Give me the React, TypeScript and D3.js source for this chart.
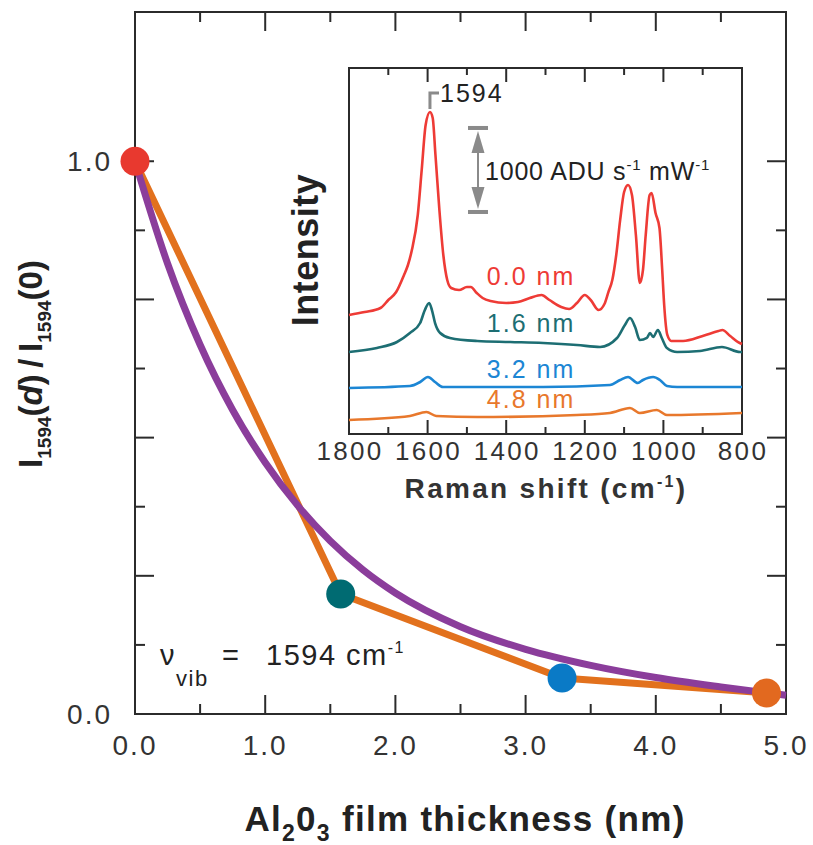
import React from 'react';
import * as d3 from 'd3';

// ---- main plot data ----
const thickness = [0, 1.58, 3.28, 4.85];
const ratio = [1.0, 0.217, 0.065, 0.038];
const dotColors = ['#e8392f', '#006b72', '#0a7ac6', '#e2691f'];

const fitThickness = [0, 0.25, 0.5, 0.75, 1.0, 1.25, 1.5, 1.75, 2.0, 2.5, 3.0, 3.5, 4.0, 4.5, 5.0];
const fitRatio = [1.0, 0.815, 0.668, 0.55, 0.455, 0.377, 0.313, 0.261, 0.219, 0.158, 0.117, 0.088, 0.066, 0.049, 0.034];

const xTickLabels = [0, 1, 2, 3, 4, 5];
const yTickLabels = [0, 1];

// ---- inset spectra (Raman shift cm-1, intensity ADU with offsets) ----
const redShift = [1800, 1760, 1720, 1700, 1680, 1660, 1650, 1640, 1625, 1615, 1605, 1594, 1587, 1580, 1570, 1560, 1550, 1540, 1520, 1500, 1490, 1475, 1460, 1440, 1400, 1370, 1340, 1310, 1290, 1260, 1240, 1220, 1200, 1185, 1165, 1150, 1140, 1130, 1120, 1110, 1100, 1090, 1080, 1070, 1060, 1052, 1045, 1035, 1030, 1020, 1010, 1003, 998, 990, 980, 950, 900, 860, 850, 830, 810, 800];
const redInt = [1417, 1452, 1500, 1595, 1690, 1893, 2012, 2190, 2607, 3143, 3679, 3833, 3762, 3321, 2667, 2131, 1833, 1738, 1714, 1750, 1750, 1679, 1619, 1583, 1560, 1571, 1619, 1655, 1595, 1512, 1488, 1560, 1655, 1595, 1476, 1548, 1690, 1833, 2131, 2548, 2881, 2964, 2845, 2369, 1798, 1952, 2369, 2845, 2869, 2631, 2452, 1952, 1536, 1179, 1107, 1107, 1167, 1226, 1238, 1167, 1095, 1071];

const tealShift = [1800, 1729, 1678, 1645, 1619, 1607, 1596, 1589, 1581, 1568, 1543, 1474, 1390, 1306, 1220, 1161, 1118, 1098, 1085, 1072, 1060, 1042, 1034, 1026, 1014, 1004, 991, 965, 907, 851, 805, 800];
const tealInt = [976, 1024, 1095, 1202, 1321, 1476, 1560, 1476, 1321, 1202, 1143, 1107, 1095, 1083, 1060, 1036, 1143, 1298, 1381, 1274, 1119, 1143, 1202, 1155, 1238, 1143, 1024, 976, 988, 1036, 976, 976];

const blueShift = [1800, 1645, 1619, 1599, 1581, 1561, 1474, 1306, 1136, 1110, 1090, 1065, 1052, 1026, 1009, 991, 965, 800];
const blueInt = [548, 571, 619, 679, 619, 560, 560, 560, 583, 643, 679, 607, 643, 679, 643, 571, 560, 560];

const orangeShift = [1800, 1645, 1603, 1578, 1474, 1220, 1136, 1085, 1060, 1017, 991, 800];
const orangeInt = [167, 214, 262, 214, 202, 226, 250, 310, 250, 286, 226, 250];

const spectrumLabels = ['0.0 nm', '1.6 nm', '3.2 nm', '4.8 nm'];
const spectrumColors = ['#ee3b36', '#1d6e73', '#1c86d4', '#e8782c'];
const insetTicks = [1800, 1600, 1400, 1200, 1000, 800];
const peakShift = 1594;
const scaleBarTop = 3643;
const scaleBarSpan = 1000;

const FONT = '"Liberation Sans", Arial, Helvetica, sans-serif';

export default function App() {
  const x = d3.scaleLinear().domain([0, 5]).range([135, 786]);
  const y = d3.scaleLinear().domain([0, 1.27]).range([714, 12]);
  const xi = d3.scaleLinear().domain([1800, 800]).range([349, 742]);
  const yi = d3.scaleLinear().domain([0, 4357]).range([434, 68]);

  const mainLine = d3.line<number>().x((_, i) => x(thickness[i])).y((_, i) => y(ratio[i]));
  const fitLine = d3
    .line<number>()
    .x((_, i) => x(fitThickness[i]))
    .y((_, i) => y(fitRatio[i]))
    .curve(d3.curveMonotoneX);

  const spec = (s: number[], v: number[]) =>
    d3
      .line<number>()
      .x((_, i) => xi(s[i]))
      .y((_, i) => yi(v[i]))
      .curve(d3.curveMonotoneX)(s) as string;

  const spectra = [
    spec(redShift, redInt),
    spec(tealShift, tealInt),
    spec(blueShift, blueInt),
    spec(orangeShift, orangeInt),
  ];
  const labelY = [285, 332, 378, 408];

  const xMinor = d3.range(1, 10).map((i) => i * 0.5);
  const yMinor = d3.range(1, 9).map((i) => i * 0.125);
  const iMinor = d3.range(1, 10).map((i) => 1800 - i * 100);

  const x0 = x(0), x1 = x(5), yb = y(0), yt = y(1.27);
  const ix0 = xi(1800), ix1 = xi(800), iyb = yi(0), iyt = yi(4357);

  const dark = '#2b2b2b';
  const gray = '#8a8a8a';
  const barX = 478;
  const bt = yi(scaleBarTop);
  const bb = yi(scaleBarTop - scaleBarSpan);
  const px = xi(peakShift);
  const peakY = yi(d3.max(redInt) as number);

  return (
    <svg width={813} height={845} style={{ position: 'absolute', left: 0, top: 0, background: '#fff' }} fontFamily={FONT}>
      <rect x={0} y={0} width={813} height={845} fill="#fff" />
      {/* main frame */}
      <rect x={x0} y={yt} width={x1 - x0} height={yb - yt} fill="none" stroke={dark} strokeWidth={2} />
      {xMinor.map((t) => {
        const L = Number.isInteger(t) ? 19 : 10;
        return (
          <g key={'xt' + t} stroke={dark} strokeWidth={2}>
            <line x1={x(t)} x2={x(t)} y1={yb} y2={yb - L} />
            <line x1={x(t)} x2={x(t)} y1={yt} y2={yt + L} />
          </g>
        );
      })}
      {yMinor.map((t, i) => {
        const L = (i + 1) % 2 === 0 ? 19 : 10;
        return (
          <g key={'yt' + t} stroke={dark} strokeWidth={2}>
            <line x1={x0} x2={x0 + L} y1={y(t)} y2={y(t)} />
            <line x1={x1} x2={x1 - L} y1={y(t)} y2={y(t)} />
          </g>
        );
      })}
      {xTickLabels.map((t) => (
        <text key={'xl' + t} x={x(t)} y={755} textAnchor="middle" fontSize={28} fill="#333" letterSpacing={2}>
          {t.toFixed(1)}
        </text>
      ))}
      {yTickLabels.map((t) => (
        <text key={'yl' + t} x={112} y={y(t) + 10} textAnchor="end" fontSize={28} fill="#333" letterSpacing={2}>
          {t.toFixed(1)}
        </text>
      ))}
      {/* axis titles */}
      <text x={465} y={831} textAnchor="middle" fontSize={35} fontWeight="bold" fill="#222" letterSpacing={1.3}>
        Al<tspan fontSize={23} dy={10}>2</tspan>
        <tspan dy={-10}>0</tspan>
        <tspan fontSize={23} dy={10}>3</tspan>
        <tspan dy={-10}> film thickness (nm)</tspan>
      </text>
      <text transform={`translate(42,364) rotate(-90)`} textAnchor="middle" fontSize={33} fontWeight="bold" fill="#222">
        I<tspan fontSize={19} dy={9}>1594</tspan>
        <tspan dy={-9}>(</tspan>
        <tspan fontStyle="italic">d</tspan>
        <tspan>){'\u2009'}/{'\u2009'}I</tspan>
        <tspan fontSize={19} dy={9}>1594</tspan>
        <tspan dy={-9}>(0)</tspan>
      </text>
      {/* nu_vib annotation */}
      <text x={160} y={665} fontSize={29} fill="#222" letterSpacing={1.5}>
        ν<tspan fontSize={22} dy={21}>vib</tspan>
        <tspan x={222} dy={-21}>=</tspan>
        <tspan x={266}>1594 cm</tspan>
        <tspan fontSize={16} dy={-12}>-1</tspan>
      </text>

      {/* inset */}
      <rect x={ix0} y={iyt} width={ix1 - ix0} height={iyb - iyt} fill="#fff" stroke={dark} strokeWidth={2} />
      {iMinor.map((t) => {
        const L = t % 200 === 0 ? 14 : 7;
        return (
          <g key={'it' + t} stroke={dark} strokeWidth={2}>
            <line x1={xi(t)} x2={xi(t)} y1={iyb} y2={iyb - L} />
            <line x1={xi(t)} x2={xi(t)} y1={iyt} y2={iyt + L} />
          </g>
        );
      })}
      {insetTicks.map((t) => (
        <text key={'il' + t} x={xi(t) + 1} y={460} textAnchor="middle" fontSize={26} fill="#333" letterSpacing={2.3}>
          {t}
        </text>
      ))}
      <text x={546} y={498} textAnchor="middle" fontSize={28} fontWeight="bold" fill="#333" letterSpacing={2.3}>
        Raman shift (cm<tspan fontSize={16} dy={-11}>-1</tspan>
        <tspan dy={11}>)</tspan>
      </text>
      <text transform={`translate(318,250) rotate(-90)`} textAnchor="middle" fontSize={36} fontWeight="bold" fill="#222" letterSpacing={0.5}>
        Intensity
      </text>
      {spectra.map((d, i) => (
        <path key={'sp' + i} d={d} fill="none" stroke={spectrumColors[i]} strokeWidth={2.6} strokeLinejoin="round" />
      ))}
      {spectrumLabels.map((l, i) => (
        <text key={'sl' + i} x={531} y={labelY[i]} textAnchor="middle" fontSize={25} fill={spectrumColors[i]} letterSpacing={2}>
          {l}
        </text>
      ))}
      {/* peak marker */}
      <path d={`M${px},${peakY - 3} V${93} H${439}`} fill="none" stroke={gray} strokeWidth={3} />
      <text x={440} y={102} fontSize={25} fill="#222" letterSpacing={2}>
        {peakShift}
      </text>
      {/* scale bar */}
      <g fill={gray} stroke="none">
        <rect x={barX - 10} y={bt - 2} width={20} height={4} />
        <rect x={barX - 10} y={bb - 2} width={20} height={4} />
        <polygon points={`${barX},${bt + 3} ${barX - 6.5},${bt + 25} ${barX + 6.5},${bt + 25}`} />
        <polygon points={`${barX},${bb - 3} ${barX - 6.5},${bb - 25} ${barX + 6.5},${bb - 25}`} />
        <rect x={barX - 1} y={bt + 24} width={2} height={bb - bt - 48} />
      </g>
      <text x={485} y={180} fontSize={25} fill="#222" letterSpacing={0.8}>
        1000 ADU s<tspan fontSize={15} dy={-10}>-1</tspan>
        <tspan dy={10}> mW</tspan>
        <tspan fontSize={15} dy={-10}>-1</tspan>
      </text>

      {/* main data */}
      <path d={mainLine(thickness) as string} fill="none" stroke="#e2711d" strokeWidth={7} strokeLinejoin="round" />
      <path d={fitLine(fitThickness) as string} fill="none" stroke="#8b3d9b" strokeWidth={7} strokeLinecap="butt" />
      {thickness.map((t, i) => (
        <circle key={'d' + i} cx={x(t)} cy={y(ratio[i])} r={14.5} fill={dotColors[i]} />
      ))}
    </svg>
  );
}
